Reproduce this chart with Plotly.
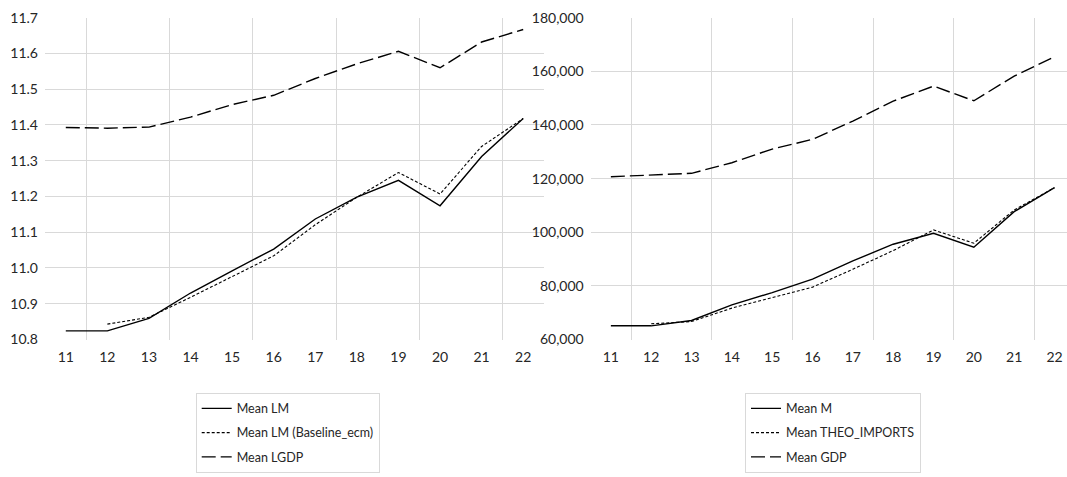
import plotly.graph_objects as go

years = [11, 12, 13, 14, 15, 16, 17, 18, 19, 20, 21, 22]
years_b = [12, 13, 14, 15, 16, 17, 18, 19, 20, 21, 22]

# Left panel (log values)
mean_lm = [10.824, 10.824, 10.859, 10.930, 10.992, 11.053, 11.137, 11.198, 11.245, 11.174, 11.312, 11.418]
mean_lm_baseline = [10.843, 10.862, 10.918, 10.977, 11.034, 11.121, 11.198, 11.267, 11.207, 11.340, 11.418]
mean_lgdp = [11.393, 11.391, 11.394, 11.422, 11.457, 11.483, 11.530, 11.571, 11.606, 11.560, 11.632, 11.667]

# Right panel (levels)
mean_m = [65100, 65100, 67080, 72920, 77500, 82490, 89310, 95530, 99630, 94410, 107670, 116610]
mean_theo = [65850, 66700, 71700, 75640, 79520, 86220, 93150, 100860, 95900, 108300, 116610]
mean_gdp = [120700, 121340, 121970, 125920, 131020, 134640, 141450, 148900, 154490, 149020, 158210, 165400]

left_ticks = [10.8, 10.9, 11.0, 11.1, 11.2, 11.3, 11.4, 11.5, 11.6, 11.7]
right_ticks = [60000, 80000, 100000, 120000, 140000, 160000, 180000]

FONT = "Lato"
TXT = "#262626"
GRID = "#d9d9d9"
W = 1067
H = 477

solid = dict(color="black", width=1.4)
dotted = dict(color="black", width=1.1, dash="3px,2px")
longdash = dict(color="black", width=1.4, dash="14px,5px")

fig = go.Figure()
fig.add_trace(go.Scatter(x=years, y=mean_lm, mode="lines", line=solid, name="Mean LM",
                         xaxis="x", yaxis="y", legend="legend", legendgroup="a"))
fig.add_trace(go.Scatter(x=years_b, y=mean_lm_baseline, mode="lines", line=dotted,
                         name="Mean LM (Baseline_ecm)", xaxis="x", yaxis="y", legend="legend", legendgroup="b"))
fig.add_trace(go.Scatter(x=years, y=mean_lgdp, mode="lines", line=longdash, name="Mean LGDP",
                         xaxis="x", yaxis="y", legend="legend", legendgroup="c"))

fig.add_trace(go.Scatter(x=years, y=mean_m, mode="lines", line=solid, name="Mean M",
                         xaxis="x2", yaxis="y2", legend="legend2", legendgroup="d"))
fig.add_trace(go.Scatter(x=years_b, y=mean_theo, mode="lines", line=dotted, name="Mean THEO_IMPORTS",
                         xaxis="x2", yaxis="y2", legend="legend2", legendgroup="e"))
fig.add_trace(go.Scatter(x=years, y=mean_gdp, mode="lines", line=longdash, name="Mean GDP",
                         xaxis="x2", yaxis="y2", legend="legend2", legendgroup="f"))

ydom = [(H - 339.5) / H, (H - 17.7) / H]

def xax(domain, rng, anchor):
    return dict(domain=domain, range=rng, showgrid=False, zeroline=False, showline=False,
                tickmode="array", tickvals=years, ticktext=[str(v) for v in years],
                ticks="", ticklabelstandoff=7, automargin=False,
                tickfont=dict(family=FONT, size=14, color=TXT),
                minor=dict(tickmode="linear", tick0=11.5, dtick=2, showgrid=True,
                           gridcolor=GRID, gridwidth=1, ticks=""),
                anchor=anchor, fixedrange=True)

def yax(rng, ticks, fmt, anchor):
    return dict(domain=ydom, range=rng, anchor=anchor,
                tickmode="array", tickvals=ticks, tickformat=fmt,
                showgrid=False, zeroline=False, showline=False, automargin=False,
                minor=dict(tickmode="array", tickvals=ticks[1:-1], showgrid=True,
                           gridcolor=GRID, gridwidth=1, ticks=""),
                ticks="", ticklabelstandoff=6, fixedrange=True,
                tickfont=dict(family=FONT, size=14, color=TXT))

legend_common = dict(xanchor="left", yanchor="top", xref="container", yref="container",
                     bordercolor=GRID, borderwidth=1, bgcolor="white",
                     font=dict(family=FONT, size=12.5, color=TXT),
                     tracegroupgap=5, itemwidth=30)

fig.update_layout(
    width=W, height=H,
    margin=dict(l=0, r=0, t=0, b=0, autoexpand=False),
    paper_bgcolor="white", plot_bgcolor="white",
    showlegend=True,
    xaxis=xax([45 / W, 544 / W], [10.5, 22.5], "y"),
    xaxis2=xax([590.7 / W, 1.0], [10.5, 22.31], "y2"),
    yaxis=yax([10.8, 11.7], left_ticks, ".1f", "x"),
    yaxis2=yax([60000, 180000], right_ticks, ",", "x2"),
    legend=dict(x=195.7 / W, y=(H - 392.7) / H, entrywidth=150, entrywidthmode="pixels",
                **legend_common),
    legend2=dict(x=745 / W, y=(H - 392.7) / H, entrywidth=130, entrywidthmode="pixels",
                 **legend_common),
)

fig.write_html("out.html", config={"displayModeBar": False},
               post_script="document.body.style.margin='0';document.body.style.overflow='hidden';")
